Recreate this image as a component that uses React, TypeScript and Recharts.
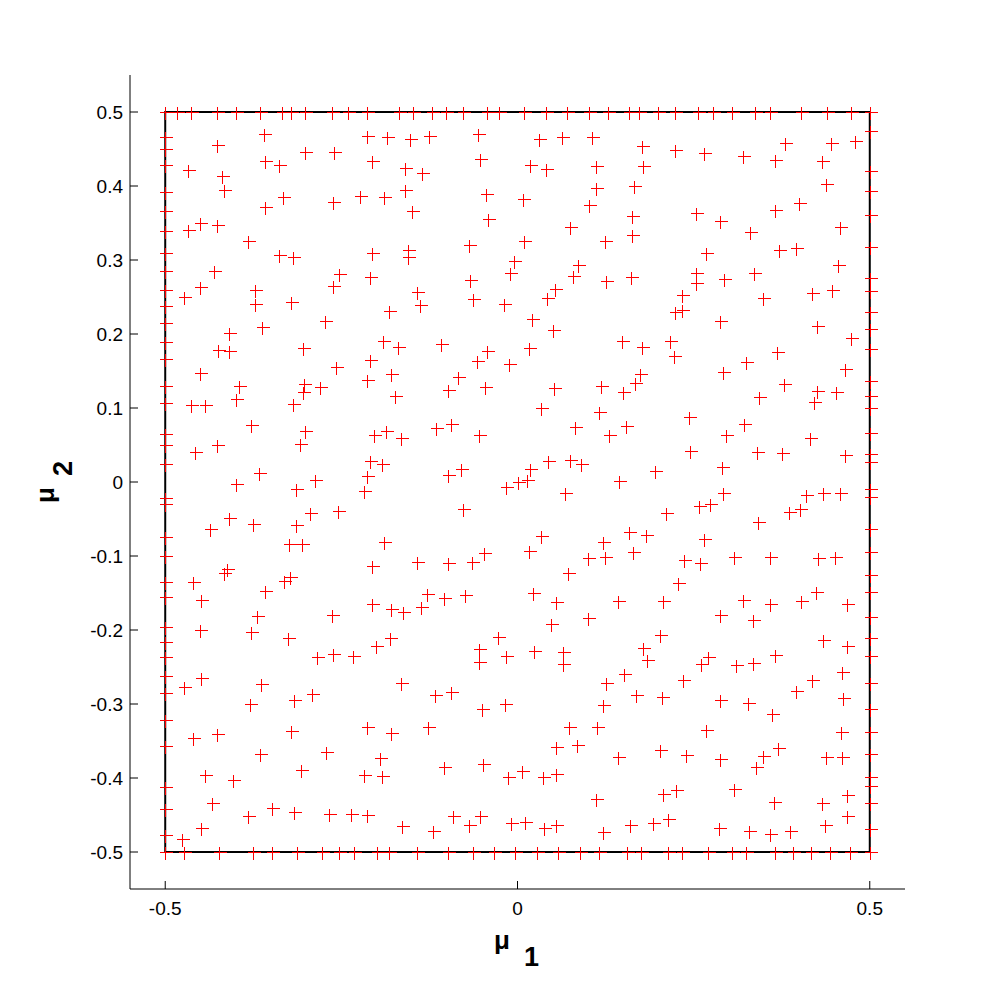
import { ScatterChart, Scatter, XAxis, YAxis, ReferenceArea, Label } from 'recharts'

const FONT = '"Liberation Sans", Arial, Helvetica, sans-serif'

// sample points sitting on the edges of the parameter square
const topEdgeMu1 = [
  -0.5, -0.483, -0.463, -0.426, -0.399, -0.366, -0.334, -0.321, -0.301, -0.263, -0.24, -0.213, -0.168,
  -0.148, -0.122, -0.101, -0.078, -0.043, -0.026, 0.009, 0.04, 0.07, 0.101, 0.128, 0.158, 0.173, 0.2,
  0.223, 0.256, 0.278, 0.305, 0.337, 0.359, 0.402, 0.44, 0.474, 0.5,
]
const bottomEdgeMu1 = [
  -0.5, -0.474, -0.423, -0.376, -0.348, -0.313, -0.278, -0.253, -0.232, -0.2, -0.182, -0.142, -0.099,
  -0.063, -0.033, -0.003, 0.028, 0.057, 0.088, 0.116, 0.156, 0.175, 0.213, 0.234, 0.27, 0.305, 0.324,
  0.366, 0.391, 0.416, 0.443, 0.472, 0.5,
]
const leftEdgeMu2 = [
  0.466, 0.45, 0.428, 0.392, 0.366, 0.339, 0.309, 0.285, 0.259, 0.238, 0.215, 0.189, 0.166, 0.13, 0.107,
  0.065, 0.05, 0.024, -0.022, -0.03, -0.074, -0.1, -0.135, -0.155, -0.196, -0.216, -0.236, -0.262,
  -0.285, -0.322, -0.357, -0.412, -0.442, -0.477,
]
const rightEdgeMu2 = [
  0.474, 0.42, 0.393, 0.361, 0.318, 0.276, 0.258, 0.23, 0.207, 0.18, 0.136, 0.116, 0.1, 0.066, 0.038,
  0.027, -0.009, -0.02, -0.064, -0.095, -0.126, -0.149, -0.182, -0.211, -0.235, -0.272, -0.307, -0.338,
  -0.368, -0.399, -0.411, -0.434, -0.469,
]

// interior samples [mu1, mu2], by horizontal band
const upperPoints = [
  [-0.36, 0.47], [-0.213, 0.468], [-0.185, 0.466], [-0.427, 0.456], [-0.301, 0.446], [-0.26, 0.446],
  [-0.358, 0.434], [-0.339, 0.429], [-0.207, 0.434], [-0.468, 0.421], [-0.419, 0.414], [-0.417, 0.394],
  [-0.333, 0.385], [-0.262, 0.378], [-0.224, 0.386], [-0.19, 0.385], [-0.358, 0.371], [-0.45, 0.35],
  [-0.468, 0.341], [-0.426, 0.347], [-0.383, 0.326], [-0.338, 0.307], [-0.318, 0.304], [-0.207, 0.31],
  [-0.431, 0.285], [-0.254, 0.281], [-0.21, 0.277], [-0.451, 0.263], [-0.473, 0.25], [-0.372, 0.259],
  [-0.372, 0.24], [-0.322, 0.243], [-0.262, 0.265], [-0.182, 0.231], [-0.409, 0.202], [-0.363, 0.209],
  [-0.273, 0.218], [-0.191, 0.191], [-0.17, 0.182], [-0.425, 0.178], [-0.409, 0.177], [-0.304, 0.181],
  [-0.153, 0.464], [-0.126, 0.468], [-0.056, 0.47], [0.03, 0.464], [0.063, 0.466], [0.106, 0.466],
  [-0.053, 0.437], [-0.159, 0.425], [-0.136, 0.417], [0.018, 0.429], [0.04, 0.423], [0.111, 0.427],
  [-0.159, 0.394], [-0.045, 0.389], [0.008, 0.383], [0.111, 0.397], [0.165, 0.4], [-0.15, 0.366],
  [0.101, 0.374], [-0.042, 0.355], [0.075, 0.344], [0.162, 0.359], [0.162, 0.334], [-0.156, 0.314],
  [-0.156, 0.304], [-0.069, 0.32], [0.009, 0.326], [0.124, 0.326], [-0.005, 0.299], [-0.011, 0.283],
  [0.086, 0.293], [0.079, 0.278], [-0.067, 0.273], [0.126, 0.272], [0.161, 0.277], [-0.143, 0.257],
  [-0.139, 0.239], [-0.063, 0.247], [-0.019, 0.241], [0.042, 0.248], [0.053, 0.261], [0.02, 0.22],
  [0.05, 0.206], [-0.109, 0.186], [-0.043, 0.177], [0.016, 0.181], [0.148, 0.191],
  [0.176, 0.454], [0.223, 0.449], [0.265, 0.444], [0.32, 0.441], [0.38, 0.458], [0.445, 0.458],
  [0.479, 0.461], [0.178, 0.427], [0.366, 0.435], [0.432, 0.434], [0.438, 0.403], [0.4, 0.377],
  [0.253, 0.364], [0.287, 0.353], [0.366, 0.368], [0.33, 0.338], [0.458, 0.344], [0.267, 0.31],
  [0.371, 0.314], [0.395, 0.316], [0.455, 0.293], [0.254, 0.282], [0.254, 0.269], [0.293, 0.275],
  [0.336, 0.282], [0.234, 0.253], [0.223, 0.23], [0.234, 0.233], [0.348, 0.248], [0.418, 0.255],
  [0.446, 0.259], [0.288, 0.217], [0.425, 0.211], [0.473, 0.194], [0.177, 0.183], [0.217, 0.19],
  [0.369, 0.175],
]
const middlePoints = [
  [-0.209, 0.165], [-0.451, 0.147], [-0.258, 0.155], [-0.179, 0.146], [-0.396, 0.13], [-0.303, 0.133],
  [-0.28, 0.128], [-0.305, 0.121], [-0.213, 0.138], [-0.174, 0.116], [-0.464, 0.104], [-0.443, 0.104],
  [-0.399, 0.112], [-0.319, 0.105], [-0.378, 0.077], [-0.301, 0.069], [-0.204, 0.064], [-0.186, 0.069],
  [-0.165, 0.059], [-0.426, 0.05], [-0.458, 0.04], [-0.309, 0.051], [-0.209, 0.028], [-0.193, 0.024],
  [-0.367, 0.012], [-0.399, -0.003], [-0.287, 0.003], [-0.315, -0.009], [-0.213, 0.008], [-0.218, -0.012],
  [-0.41, -0.048], [-0.437, -0.063], [-0.375, -0.057], [-0.315, -0.058], [-0.295, -0.042], [-0.255, -0.039],
  [-0.324, -0.084], [-0.306, -0.084], [-0.19, -0.081], [-0.412, -0.117], [-0.416, -0.123], [-0.461, -0.135],
  [-0.332, -0.134], [-0.323, -0.129], [-0.358, -0.147], [-0.449, -0.159], [-0.207, -0.114], [-0.207, -0.165],
  [-0.058, 0.164], [-0.012, 0.16], [-0.085, 0.142], [-0.098, 0.124], [-0.046, 0.128], [0.052, 0.127],
  [0.118, 0.13], [0.15, 0.122], [0.167, 0.134], [0.174, 0.146], [0.034, 0.1], [0.116, 0.094],
  [-0.116, 0.073], [-0.094, 0.078], [-0.054, 0.064], [0.081, 0.074], [0.13, 0.064], [0.154, 0.076],
  [0.043, 0.028], [0.074, 0.03], [0.09, 0.025], [0.018, 0.018], [-0.098, 0.01], [-0.08, 0.017],
  [-0.016, -0.007], [0.0, 0.0], [0.014, 0.003], [0.067, -0.015], [0.144, 0.002], [-0.078, -0.037],
  [0.034, -0.073], [0.121, -0.081], [0.158, -0.068], [0.016, -0.093], [0.1, -0.103], [0.124, -0.102],
  [0.164, -0.095], [-0.142, -0.108], [-0.099, -0.109], [-0.064, -0.108], [-0.048, -0.096], [0.072, -0.123],
  [-0.129, -0.152], [-0.105, -0.157], [-0.075, -0.153], [0.022, -0.15], [0.054, -0.162], [0.143, -0.161],
  [0.222, 0.17], [0.324, 0.162], [0.465, 0.153], [0.292, 0.148], [0.378, 0.132], [0.425, 0.123],
  [0.452, 0.121], [0.343, 0.115], [0.421, 0.108], [0.243, 0.088], [0.321, 0.079], [0.296, 0.064],
  [0.415, 0.06], [0.245, 0.042], [0.34, 0.04], [0.376, 0.039], [0.465, 0.037], [0.195, 0.015],
  [0.29, 0.02], [0.292, -0.015], [0.41, -0.018], [0.434, -0.015], [0.458, -0.015], [0.258, -0.033],
  [0.273, -0.03], [0.211, -0.042], [0.385, -0.041], [0.401, -0.036], [0.341, -0.054], [0.182, -0.071],
  [0.265, -0.077], [0.236, -0.105], [0.259, -0.11], [0.307, -0.102], [0.358, -0.102], [0.427, -0.103],
  [0.451, -0.102], [0.228, -0.137], [0.424, -0.149], [0.206, -0.161], [0.32, -0.159], [0.358, -0.165],
  [0.403, -0.161], [0.468, -0.165],
]
const lowerPoints = [
  [-0.37, -0.181], [-0.264, -0.18], [-0.179, -0.172], [-0.451, -0.2], [-0.378, -0.203], [-0.326, -0.211],
  [-0.284, -0.236], [-0.262, -0.233], [-0.234, -0.235], [-0.201, -0.222], [-0.181, -0.211], [-0.473, -0.277],
  [-0.449, -0.265], [-0.364, -0.273], [-0.165, -0.271], [-0.379, -0.3], [-0.317, -0.294], [-0.291, -0.286],
  [-0.46, -0.346], [-0.427, -0.341], [-0.321, -0.336], [-0.213, -0.331], [-0.179, -0.339], [-0.366, -0.368],
  [-0.272, -0.365], [-0.195, -0.373], [-0.443, -0.396], [-0.404, -0.403], [-0.308, -0.389], [-0.218, -0.396],
  [-0.192, -0.397], [-0.433, -0.434], [-0.382, -0.451], [-0.348, -0.44], [-0.317, -0.446], [-0.267, -0.448],
  [-0.237, -0.448], [-0.213, -0.45], [-0.449, -0.468], [-0.476, -0.482], [-0.164, -0.465],
  [-0.163, -0.176], [-0.137, -0.169], [0.1, -0.184], [0.048, -0.192], [-0.027, -0.21], [-0.054, -0.225],
  [-0.055, -0.243], [-0.016, -0.235], [0.023, -0.228], [0.064, -0.23], [0.064, -0.246], [0.178, -0.224],
  [-0.117, -0.288], [-0.094, -0.284], [-0.051, -0.307], [-0.018, -0.3], [0.126, -0.271], [0.151, -0.259],
  [0.168, -0.288], [0.121, -0.301], [-0.127, -0.331], [0.073, -0.331], [0.113, -0.331], [0.054, -0.358],
  [0.085, -0.355], [0.143, -0.371], [-0.105, -0.385], [-0.049, -0.381], [-0.014, -0.399], [0.007, -0.391],
  [0.036, -0.399], [0.054, -0.394], [0.112, -0.428], [-0.091, -0.451], [-0.069, -0.463], [-0.053, -0.452],
  [-0.12, -0.471], [-0.009, -0.461], [0.011, -0.46], [0.038, -0.467], [0.055, -0.464], [0.121, -0.473],
  [0.159, -0.464],
  [0.288, -0.18], [0.334, -0.187], [0.202, -0.207], [0.184, -0.241], [0.27, -0.237], [0.261, -0.246],
  [0.31, -0.247], [0.334, -0.245], [0.365, -0.234], [0.433, -0.214], [0.468, -0.222], [0.46, -0.257],
  [0.418, -0.268], [0.235, -0.268], [0.205, -0.291], [0.288, -0.295], [0.327, -0.298], [0.395, -0.283],
  [0.462, -0.292], [0.361, -0.313], [0.268, -0.335], [0.459, -0.338], [0.202, -0.362], [0.239, -0.369],
  [0.288, -0.374], [0.348, -0.37], [0.37, -0.36], [0.339, -0.385], [0.438, -0.371], [0.46, -0.372],
  [0.206, -0.421], [0.225, -0.416], [0.307, -0.415], [0.364, -0.433], [0.432, -0.434], [0.467, -0.423],
  [0.467, -0.451], [0.192, -0.461], [0.213, -0.456], [0.286, -0.467], [0.329, -0.471], [0.358, -0.475],
  [0.387, -0.471], [0.437, -0.464],
]

const xTicks = [-0.5, 0, 0.5]
const yTicks = [-0.5, -0.4, -0.3, -0.2, -0.1, 0, 0.1, 0.2, 0.3, 0.4, 0.5]

const points = [
  ...topEdgeMu1.map((m) => ({ mu1: m, mu2: 0.5 })),
  ...bottomEdgeMu1.map((m) => ({ mu1: m, mu2: -0.5 })),
  ...leftEdgeMu2.map((m) => ({ mu1: -0.5, mu2: m })),
  ...rightEdgeMu2.map((m) => ({ mu1: 0.5, mu2: m })),
  ...[...upperPoints, ...middlePoints, ...lowerPoints].map(([a, b]) => ({ mu1: a, mu2: b })),
]

// matlab style '+' marker
const Plus = (props: any) => {
  const { cx, cy } = props
  if (cx == null || cy == null) return null
  const x = Math.round(cx) + 0.5
  const y = Math.round(cy) + 0.5
  return (
    <g stroke="#ff0000" strokeWidth={1} shapeRendering="crispEdges">
      <line x1={x - 6} y1={y} x2={x + 7} y2={y} />
      <line x1={x} y1={y - 6} x2={x} y2={y + 7} />
    </g>
  )
}

const fmt = (v: number) => (v === 0 ? '0' : v.toFixed(1))

const XLabel = () => (
  <text x={494} y={949} fontFamily={FONT} fontWeight="bold" fontSize={26} fill="#000">
    μ
    <tspan dx={14} dy={17} fontSize={27}>1</tspan>
  </text>
)

const YLabel = () => (
  <text transform="translate(54, 503) rotate(-90)" fontFamily={FONT} fontWeight="bold" fontSize={26} fill="#000">
    μ
    <tspan dx={11} dy={18} fontSize={27}>2</tspan>
  </text>
)

export default function App() {
  const tickStyle = { fill: '#000', fontSize: 19, fontFamily: FONT }
  return (
    <div style={{ position: 'absolute', left: 0, top: 0, width: 999, height: 1000, background: '#fff' }}>
      <ScatterChart width={999} height={1000} margin={{ top: 75, right: 94, bottom: 51, left: 70 }}>
        <XAxis
          type="number"
          dataKey="mu1"
          domain={[-0.55, 0.55]}
          ticks={xTicks}
          interval={0}
          tickFormatter={fmt}
          height={60}
          tickSize={-8}
          tickMargin={21}
          tick={tickStyle}
          axisLine={{ stroke: '#000' }}
          tickLine={{ stroke: '#000' }}
        >
          <Label content={XLabel} />
        </XAxis>
        <YAxis
          type="number"
          dataKey="mu2"
          domain={[-0.55, 0.55]}
          ticks={yTicks}
          interval={0}
          tickFormatter={fmt}
          width={60}
          tickSize={-8}
          tickMargin={15}
          tick={tickStyle}
          axisLine={{ stroke: '#000' }}
          tickLine={{ stroke: '#000' }}
        >
          <Label content={YLabel} />
        </YAxis>
        <ReferenceArea x1={-0.5} x2={0.5} y1={-0.5} y2={0.5} fill="none" fillOpacity={0} stroke="#000" strokeWidth={2} />
        <Scatter data={points} shape={Plus} isAnimationActive={false} />
      </ScatterChart>
    </div>
  )
}
